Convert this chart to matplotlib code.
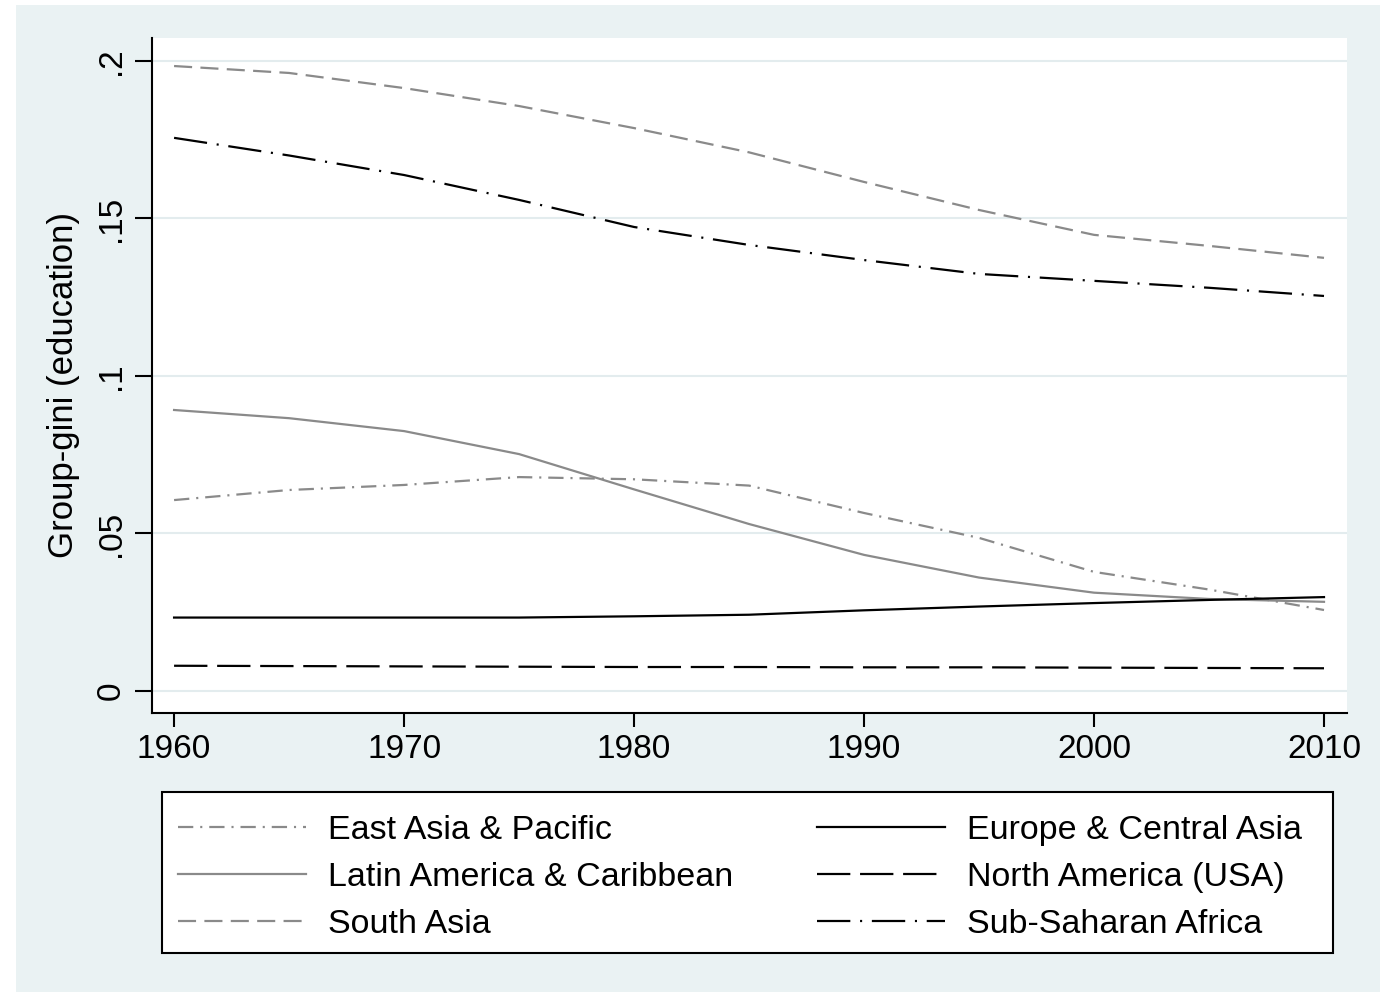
import matplotlib.pyplot as plt
from matplotlib.patches import Rectangle

plt.rcParams['font.family'] = ['Liberation Sans', 'DejaVu Sans']
plt.rcParams['lines.scale_dashes'] = False

years = [1960, 1965, 1970, 1975, 1980, 1985, 1990, 1995, 2000, 2005, 2010]

east_asia = [0.0606, 0.0638, 0.0654, 0.0679, 0.0672, 0.0652, 0.0565, 0.0486, 0.0378, 0.0322, 0.0257]
europe = [0.0233, 0.0233, 0.0233, 0.0233, 0.0237, 0.0242, 0.0256, 0.0268, 0.0279, 0.0289, 0.0298]
latin_america = [0.0892, 0.0866, 0.0825, 0.0752, 0.0640, 0.0530, 0.0432, 0.0360, 0.0312, 0.0292, 0.0283]
north_america = [0.0080, 0.0079, 0.0078, 0.0077, 0.0076, 0.0076, 0.0075, 0.0075, 0.0074, 0.0073, 0.0072]
south_asia = [0.1984, 0.1962, 0.1914, 0.1857, 0.1787, 0.1710, 0.1616, 0.1527, 0.1448, 0.1413, 0.1375]
sub_saharan = [0.1756, 0.1700, 0.1638, 0.1559, 0.1473, 0.1416, 0.1368, 0.1324, 0.1302, 0.1280, 0.1254]

yticks = [0, 0.05, 0.1, 0.15, 0.2]
ytick_labels = ['0', '.05', '.1', '.15', '.2']
xticks = [1960, 1970, 1980, 1990, 2000, 2010]

W, H = 1389, 994
fig = plt.figure(figsize=(W / 100, H / 100), dpi=100, facecolor='white')
# light outer region of the graph
fig.patches.append(Rectangle((16 / W, 1 - 992 / H), (1380 - 16) / W, (992 - 5) / H,
                             transform=fig.transFigure, facecolor='#EAF2F3',
                             edgecolor='none', zorder=-10))

ax = fig.add_axes([152 / W, 1 - 713 / H, (1347 - 152) / W, (713 - 38) / H])
ax.set_facecolor('white')

gray = '#8a8a8a'
lw = 1.6
l1, = ax.plot(years, east_asia, color=gray, lw=lw, dashes=(11, 5, 1.5, 5), label='East Asia & Pacific')
l2, = ax.plot(years, latin_america, color=gray, lw=lw, label='Latin America & Caribbean')
l3, = ax.plot(years, south_asia, color=gray, lw=lw, dashes=(13, 6), label='South Asia')
l4, = ax.plot(years, europe, color='black', lw=lw, label='Europe & Central Asia')
l5, = ax.plot(years, north_america, color='black', lw=lw, dashes=(24, 7), label='North America (USA)')
l6, = ax.plot(years, sub_saharan, color='black', lw=lw, dashes=(24, 7, 1.5, 7), label='Sub-Saharan Africa')

ax.set_xlim(1959.04, 2011)
ax.set_ylim(-0.007, 0.2073)
ax.set_yticks(yticks)
ax.set_yticklabels(ytick_labels, rotation=90, va='center')
ax.set_xticks(xticks)
ax.tick_params(axis='both', labelsize=24, width=1.5, colors='black')
ax.tick_params(axis='x', length=10, pad=5)
ax.tick_params(axis='y', length=12, pad=6)
ax.grid(axis='y', color='#E3ECEE', lw=1.5)
ax.set_axisbelow(True)
for side in ['top', 'right']:
    ax.spines[side].set_visible(False)
for side in ['left', 'bottom']:
    ax.spines[side].set_linewidth(1.5)
ax.set_ylabel('Group-gini (education)', fontsize=25)
ax.yaxis.set_label_coords(-0.06, 0.486)

# legend box, with the entries spread across its inner part
box_l, box_r, box_b, box_t = 162, 1333, 953, 792
fig.patches.append(Rectangle((box_l / W, 1 - box_b / H), (box_r - box_l) / W, (box_b - box_t) / H,
                             transform=fig.transFigure, facecolor='white',
                             edgecolor='black', lw=1.5, zorder=1))
handles = [l1, l2, l3, l4, l5, l6]
leg = fig.legend(handles, [h.get_label() for h in handles], ncol=2,
                 bbox_to_anchor=((box_l + 16) / W, 1 - (box_b + 5) / H, (1302 - box_l - 16) / W, (box_b - box_t) / H),
                 loc='center', mode='expand', borderaxespad=0, borderpad=0, fontsize=24.5,
                 frameon=False, handlelength=3.75, handletextpad=0.65,
                 labelspacing=0.47)

fig.savefig('out.png', dpi=100, facecolor=fig.get_facecolor())
